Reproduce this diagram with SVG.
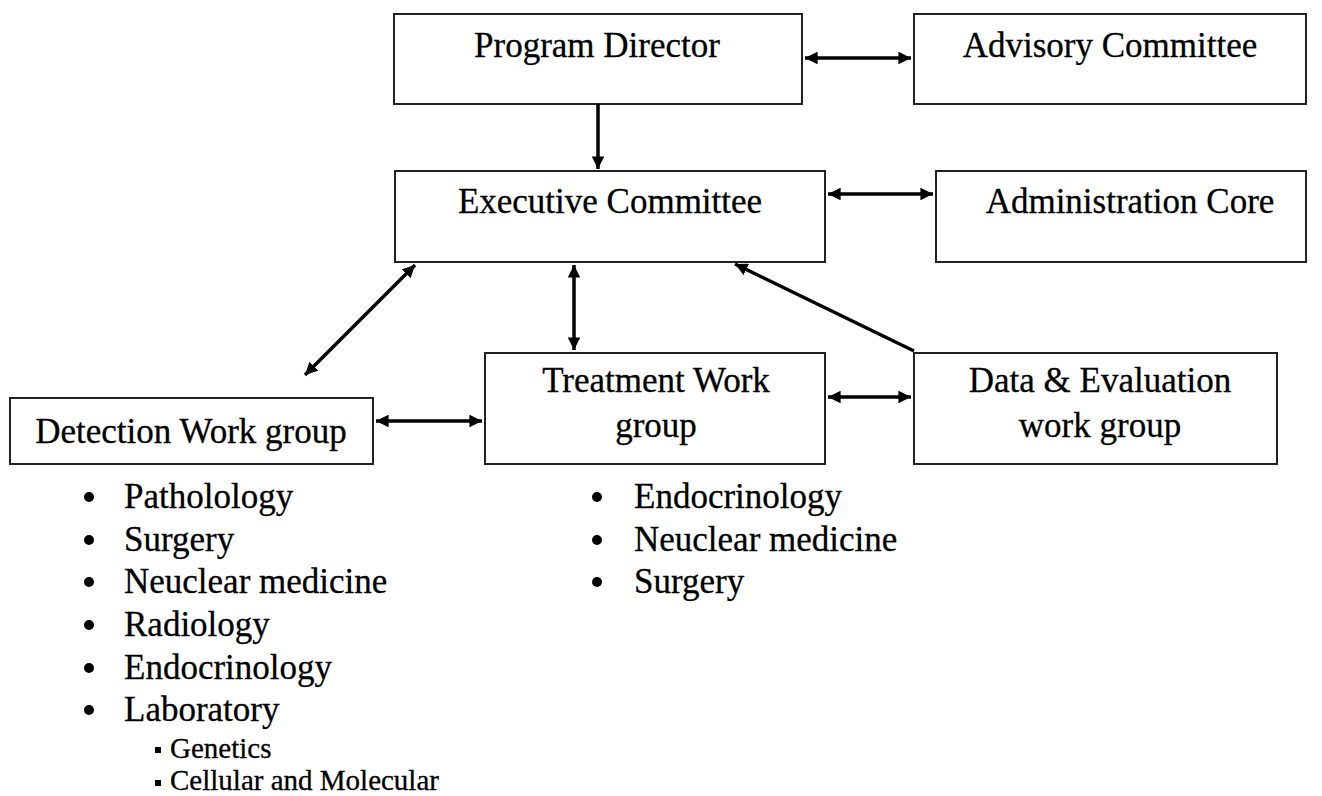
<svg xmlns="http://www.w3.org/2000/svg" width="1322" height="796" viewBox="0 0 1322 796">
<defs>
<marker id="ah" viewBox="0 0 10 10" refX="10" refY="5" markerWidth="3.6" markerHeight="3.6" markerUnits="strokeWidth" orient="auto-start-reverse">
<path d="M0,0 L10,5 L0,10 z" fill="#000"/>
</marker>
</defs>
<style>
.box{fill:#fff;stroke:#222;stroke-width:2}
.t{font-family:"Liberation Serif","Times New Roman",serif;font-size:35px;fill:#000;stroke:#000;stroke-width:0.3;text-anchor:middle}
.l{font-family:"Liberation Serif","Times New Roman",serif;font-size:35px;fill:#000;stroke:#000;stroke-width:0.3}
.s{font-family:"Liberation Serif","Times New Roman",serif;font-size:29px;fill:#000;stroke:#000;stroke-width:0.3}
.c{stroke:#000;stroke-width:3.5;fill:none}
</style>
<rect width="1322" height="796" fill="#fff"/>
<g id="program-director"><rect class="box" x="394" y="14" width="408" height="90"/><text class="t" x="597" y="57">Program Director</text></g>
<g id="advisory-committee"><rect class="box" x="914" y="14" width="392" height="90"/><text class="t" x="1110" y="57">Advisory Committee</text></g>
<g id="executive-committee"><rect class="box" x="395" y="171" width="430" height="91"/><text class="t" x="610" y="213">Executive Committee</text></g>
<g id="administration-core"><rect class="box" x="936" y="171" width="370" height="91"/><text class="t" x="1130" y="213">Administration Core</text></g>
<g id="detection"><rect class="box" x="10" y="398" width="363" height="66"/><text class="t" x="191" y="443">Detection Work group</text></g>
<g id="treatment"><rect class="box" x="485" y="353" width="340" height="111"/><text class="t" x="656" y="392">Treatment Work</text><text class="t" x="656" y="437">group</text></g>
<g id="data-evaluation"><rect class="box" x="914" y="353" width="363" height="111"/><text class="t" x="1100" y="392">Data &amp; Evaluation</text><text class="t" x="1100" y="437">work group</text></g>
<g id="connectors">
<line class="c" x1="805" y1="58" x2="911" y2="58" marker-start="url(#ah)" marker-end="url(#ah)"/>
<line class="c" x1="598" y1="104" x2="598" y2="169" marker-end="url(#ah)"/>
<line class="c" x1="828" y1="194" x2="933" y2="194" marker-start="url(#ah)" marker-end="url(#ah)"/>
<line class="c" x1="415" y1="265" x2="305" y2="375" marker-start="url(#ah)" marker-end="url(#ah)"/>
<line class="c" x1="574" y1="265" x2="574" y2="350" marker-start="url(#ah)" marker-end="url(#ah)"/>
<line class="c" x1="914" y1="351" x2="735" y2="264" marker-end="url(#ah)"/>
<line class="c" x1="376" y1="421" x2="482" y2="421" marker-start="url(#ah)" marker-end="url(#ah)"/>
<line class="c" x1="828" y1="397" x2="911" y2="397" marker-start="url(#ah)" marker-end="url(#ah)"/>
</g>
<g id="detection-list">
<circle cx="89" cy="497" r="5"/><text class="l" x="124" y="508">Patholology</text>
<circle cx="89" cy="540" r="5"/><text class="l" x="124" y="551">Surgery</text>
<circle cx="89" cy="582" r="5"/><text class="l" x="124" y="593">Neuclear medicine</text>
<circle cx="89" cy="625" r="5"/><text class="l" x="124" y="636">Radiology</text>
<circle cx="89" cy="668" r="5"/><text class="l" x="124" y="679">Endocrinology</text>
<circle cx="89" cy="710" r="5"/><text class="l" x="124" y="721">Laboratory</text>
<rect x="155" y="747" width="6" height="6"/><text class="s" x="170" y="758">Genetics</text>
<rect x="155" y="780" width="6" height="6"/><text class="s" x="170" y="790">Cellular and Molecular</text>
</g>
<g id="treatment-list">
<circle cx="597" cy="497" r="5"/><text class="l" x="634" y="508">Endocrinology</text>
<circle cx="597" cy="540" r="5"/><text class="l" x="634" y="551">Neuclear medicine</text>
<circle cx="597" cy="582" r="5"/><text class="l" x="634" y="593">Surgery</text>
</g>
</svg>
